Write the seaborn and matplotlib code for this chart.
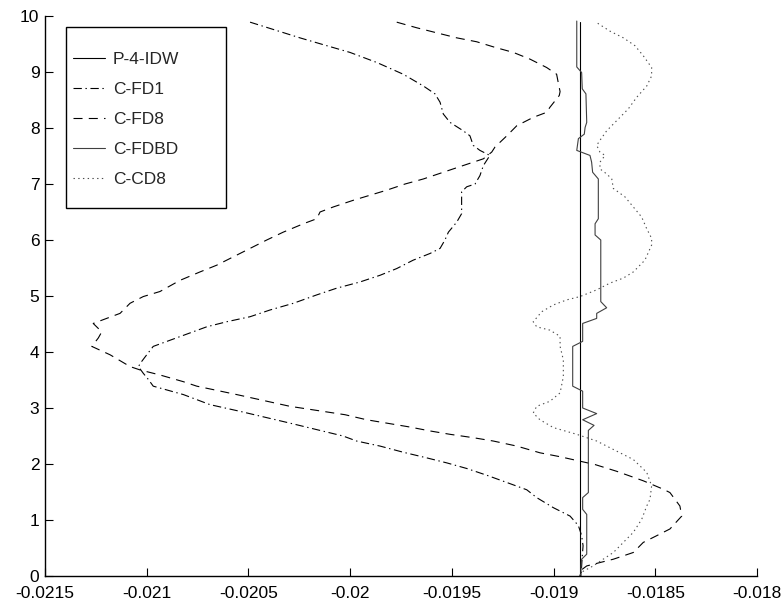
import matplotlib
matplotlib.use("Agg")
import matplotlib.pyplot as plt
import seaborn as sns
import pandas as pd
from matplotlib.patches import Rectangle

sns.set_style("ticks", {"xtick.direction": "in", "ytick.direction": "in"})
plt.rcParams['font.family'] = ['Liberation Sans', 'DejaVu Sans']
plt.rcParams['lines.scale_dashes'] = False

# ---------------- data ----------------
series_names = ["P-4-IDW", "C-FD1", "C-FD8", "C-FDBD", "C-CD8"]

p4idw_y = [9.9, 7.5, 5.0, 2.5, 0.0]
p4idw_x = [-0.01887, -0.01887, -0.01887, -0.01887, -0.01887]

cfd1_y = [9.89, 9.76, 9.61, 9.47, 9.35, 9.17, 8.96, 8.75, 8.61, 8.46, 8.25, 8.10,
          7.95, 7.86, 7.69, 7.60, 7.51, 7.33, 7.15, 7.00, 6.95, 6.86, 6.47, 6.32,
          6.14, 6.00, 5.85, 5.76, 5.64, 5.49, 5.37, 5.25, 5.14, 5.02, 4.87, 4.75,
          4.63, 4.54, 4.45, 4.10, 3.95, 3.83, 3.74, 3.62, 3.51, 3.39, 3.24, 3.06,
          2.94, 2.73, 2.50, 2.41, 2.32, 2.21, 2.11, 2.02, 1.92, 1.80, 1.67, 1.54,
          1.40, 1.22, 1.07, 0.90, 0.72, 0.54, 0.30, 0.00]
cfd1_x = [-0.020492, -0.020378, -0.020247, -0.020115, -0.020001, -0.019869, -0.019739,
          -0.019640, -0.019583, -0.019558, -0.019542, -0.019509, -0.019444, -0.019411,
          -0.019395, -0.019362, -0.019313, -0.019345, -0.019362, -0.019386, -0.019427,
          -0.019452, -0.019452, -0.019476, -0.019517, -0.019534, -0.019558, -0.019607,
          -0.019690, -0.019771, -0.019853, -0.019952, -0.020066, -0.020164, -0.020279,
          -0.020394, -0.020492, -0.020607, -0.020705, -0.020968, -0.021000, -0.021025,
          -0.021041, -0.021017, -0.020992, -0.020968, -0.020820, -0.020689, -0.020541,
          -0.020296, -0.020035, -0.019968, -0.019853, -0.019739, -0.019624, -0.019525,
          -0.019427, -0.019329, -0.019230, -0.019132, -0.019083, -0.019001, -0.018919,
          -0.018878, -0.018862, -0.018855, -0.018860, -0.018865]

cfd8_y = [9.89, 9.79, 9.70, 9.61, 9.54, 9.44, 9.35, 9.23, 9.08, 8.96, 8.81, 8.65,
          8.58, 8.37, 8.28, 8.19, 8.04, 7.86, 7.66, 7.57, 7.45, 7.33, 7.21, 7.09,
          7.00, 6.89, 6.80, 6.71, 6.59, 6.50, 6.38, 6.29, 6.14, 6.00, 5.85, 5.70,
          5.55, 5.43, 5.28, 5.08, 4.99, 4.87, 4.69, 4.51, 4.36, 4.25, 4.10, 3.95,
          3.74, 3.68, 3.59, 3.47, 3.39, 3.24, 3.03, 2.88, 2.79, 2.72, 2.66, 2.59,
          2.53, 2.47, 2.41, 2.32, 2.20, 2.13, 2.05, 1.99, 1.87, 1.70, 1.55, 1.49,
          1.25, 1.07, 0.84, 0.72, 0.60, 0.42, 0.30, 0.24, 0.18, 0.09, 0.00]
cfd8_x = [-0.019771, -0.019673, -0.019575, -0.019476, -0.019378, -0.019288, -0.019198,
          -0.019116, -0.019034, -0.018985, -0.018977, -0.018968, -0.018972, -0.019018,
          -0.019034, -0.019100, -0.019181, -0.019230, -0.019288, -0.019304, -0.019345,
          -0.019444, -0.019542, -0.019640, -0.019730, -0.019820, -0.019902, -0.019984,
          -0.020083, -0.020148, -0.020164, -0.020230, -0.020329, -0.020410, -0.020492,
          -0.020574, -0.020656, -0.020738, -0.020836, -0.020935, -0.021017, -0.021082,
          -0.021131, -0.021263, -0.021221, -0.021238, -0.021270, -0.021180, -0.021082,
          -0.021033, -0.020935, -0.020820, -0.020754, -0.020558, -0.020296, -0.020025,
          -0.019919, -0.019804, -0.019706, -0.019607, -0.019509, -0.019395, -0.019296,
          -0.019181, -0.019067, -0.018968, -0.018870, -0.018796, -0.018690, -0.018559,
          -0.018461, -0.018428, -0.018379, -0.018370, -0.018428, -0.018493, -0.018559,
          -0.018608, -0.018706, -0.018772, -0.018837, -0.018870, -0.018870]

cfdbd_y = [9.91, 9.09, 8.99, 8.70, 8.61, 8.10, 8.01, 7.89, 7.81, 7.60, 7.51, 7.39,
           7.21, 7.09, 6.38, 6.29, 6.09, 6.00, 4.90, 4.79, 4.69, 4.60, 4.51, 4.19,
           4.10, 3.39, 3.30, 3.00, 2.90, 2.79, 2.69, 2.60, 1.49, 1.40, 1.19, 1.10,
           0.39, 0.30, 0.18, 0.00]
cfdbd_x = [-0.018886, -0.018886, -0.018862, -0.018859, -0.018841, -0.018837, -0.018845,
           -0.018849, -0.018878, -0.018886, -0.018821, -0.018813, -0.018808, -0.018780,
           -0.018780, -0.018796, -0.018796, -0.018768, -0.018768, -0.018739, -0.018788,
           -0.018788, -0.018857, -0.018857, -0.018906, -0.018906, -0.018857, -0.018857,
           -0.018788, -0.018857, -0.018801, -0.018829, -0.018829, -0.018857, -0.018857,
           -0.018837, -0.018837, -0.018862, -0.018865, -0.018865]

ccd8_y = [9.87, 9.73, 9.61, 9.47, 9.29, 9.08, 8.93, 8.75, 8.55, 8.34, 8.13, 7.95,
          7.78, 7.69, 7.57, 7.51, 7.39, 7.27, 7.18, 7.09, 6.92, 6.77, 6.59, 6.41,
          6.20, 6.03, 5.91, 5.64, 5.43, 5.32, 5.23, 5.11, 4.99, 4.93, 4.84, 4.72,
          4.54, 4.45, 4.39, 4.28, 4.10, 3.86, 3.56, 3.27, 3.12, 3.03, 2.91, 2.79,
          2.65, 2.53, 2.41, 2.23, 2.08, 1.85, 1.61, 1.37, 1.25, 1.01, 0.78, 0.60,
          0.42, 0.30, 0.18, 0.07, 0.00]
ccd8_x = [-0.018783, -0.018723, -0.018657, -0.018600, -0.018559, -0.018518, -0.018518,
          -0.018542, -0.018591, -0.018633, -0.018690, -0.018739, -0.018772, -0.018788,
          -0.018772, -0.018747, -0.018772, -0.018772, -0.018739, -0.018714, -0.018706,
          -0.018649, -0.018608, -0.018567, -0.018542, -0.018518, -0.018518, -0.018551,
          -0.018608, -0.018657, -0.018723, -0.018788, -0.018870, -0.018936, -0.019001,
          -0.019058, -0.019100, -0.019083, -0.019018, -0.018968, -0.018968, -0.018952,
          -0.018952, -0.018968, -0.019018, -0.019083, -0.019100, -0.019067, -0.019001,
          -0.018886, -0.018788, -0.018690, -0.018608, -0.018542, -0.018518, -0.018526,
          -0.018542, -0.018567, -0.018608, -0.018657, -0.018706, -0.018756, -0.018805,
          -0.018862, -0.018870]

x_ticks = [-0.0215, -0.021, -0.0205, -0.02, -0.0195, -0.019, -0.0185, -0.018]
x_tick_labels = ["-0.0215", "-0.021", "-0.0205", "-0.02", "-0.0195", "-0.019", "-0.0185", "-0.018"]
y_ticks = [0, 1, 2, 3, 4, 5, 6, 7, 8, 9, 10]
y_tick_labels = ["0", "1", "2", "3", "4", "5", "6", "7", "8", "9", "10"]

# ---------------- figure ----------------
W, H = 783, 602
fig = plt.figure(figsize=(W / 100, H / 100), dpi=100)
fig.patch.set_facecolor("white")
ax_l, ax_r, ax_t, ax_b = 45, 757, 16, 576
ax = fig.add_axes([ax_l / W, 1 - ax_b / H, (ax_r - ax_l) / W, (ax_b - ax_t) / H])
ax.set_facecolor("white")

series = [
    (p4idw_x, p4idw_y, dict(color="black", linestyle="-")),
    (cfd1_x, cfd1_y, dict(color="black", linestyle=(0, (6, 2.6, 1, 2.6)))),
    (cfd8_x, cfd8_y, dict(color="black", linestyle=(0, (6.5, 4.5)))),
    (cfdbd_x, cfdbd_y, dict(color="0.25", linestyle="-")),
    (ccd8_x, ccd8_y, dict(color="0.3", linestyle=(0, (1, 2.4)))),
]

for name, (xs, ys, style) in zip(series_names, series):
    df = pd.DataFrame({"x": xs, "y": ys})
    sns.lineplot(data=df, x="x", y="y", sort=False, estimator=None, orient="y",
                 ax=ax, label=name, linewidth=0.8, **style)

ax.set_xlim(-0.0215, -0.018)
ax.set_ylim(0, 10)
ax.set_xticks(x_ticks)
ax.set_xticklabels(x_tick_labels)
ax.set_yticks(y_ticks)
ax.set_yticklabels(y_tick_labels)
ax.set_xlabel("")
ax.set_ylabel("")

for side in ["top", "right"]:
    ax.spines[side].set_visible(False)
for side in ["left", "bottom"]:
    ax.spines[side].set_color("black")
    ax.spines[side].set_linewidth(1.0)

ax.tick_params(axis="both", direction="in", length=5.5, width=0.8, colors="black",
               labelsize=12.5, labelcolor="black")
ax.tick_params(axis="x", pad=7)
ax.tick_params(axis="y", pad=4)

# legend
handles, labels = ax.get_legend_handles_labels()
if ax.get_legend() is not None:
    ax.get_legend().remove()
box = Rectangle((66 / W, 1 - 208 / H), 160 / W, 181 / H, transform=fig.transFigure,
                facecolor="white", edgecolor="black", linewidth=1.0, zorder=4, clip_on=False)
ax.add_patch(box)
leg = ax.legend(handles, labels, loc="upper left", bbox_to_anchor=(73 / W, 1 - 52 / H),
                bbox_transform=fig.transFigure, frameon=False, borderpad=0, borderaxespad=0,
                fontsize=12.5, handlelength=1.85, handletextpad=0.45, labelspacing=0.85)
leg.set_zorder(5)

fig.savefig("out.png", dpi=100, facecolor="white")
